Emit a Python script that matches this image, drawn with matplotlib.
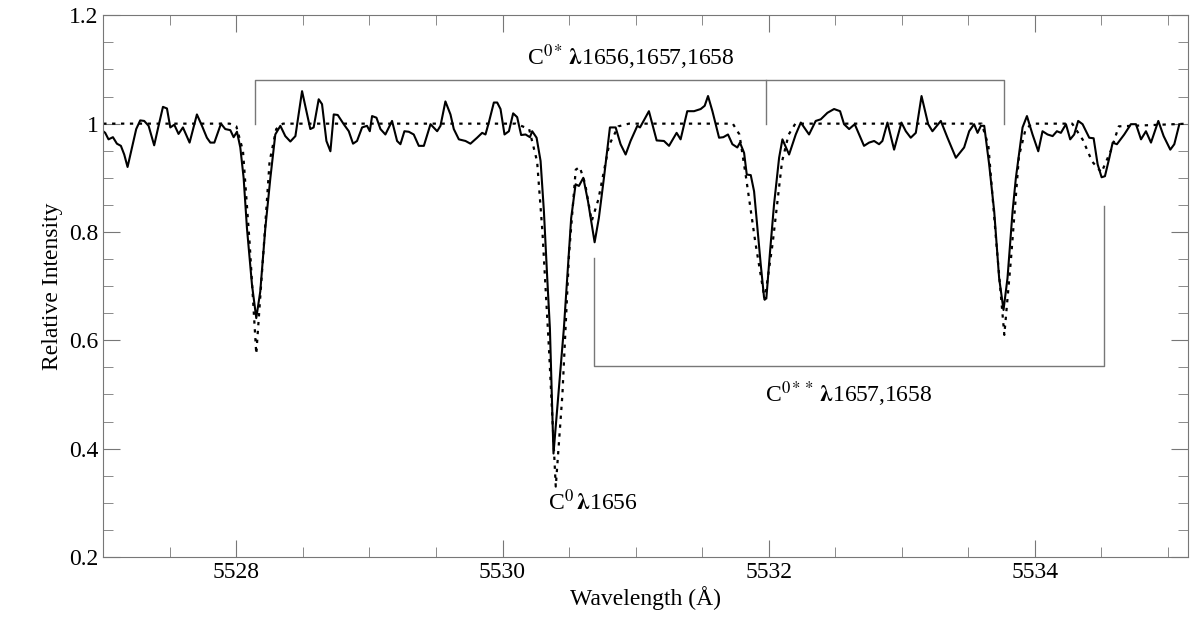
import matplotlib
matplotlib.use("Agg")
import matplotlib.pyplot as plt
from matplotlib.ticker import MultipleLocator

plt.rcParams["font.family"] = ["Liberation Serif", "DejaVu Serif"]
plt.rcParams["mathtext.fontset"] = "stix"

obs_wl = [5527.000, 5527.015, 5527.040, 5527.073, 5527.103, 5527.133, 5527.158, 5527.183, 5527.216,
          5527.248, 5527.278, 5527.308, 5527.341, 5527.383, 5527.416, 5527.449, 5527.479, 5527.504,
          5527.534, 5527.566, 5527.599, 5527.649, 5527.704, 5527.742, 5527.779, 5527.805, 5527.835,
          5527.885, 5527.917, 5527.955, 5527.980, 5528.005, 5528.030, 5528.055, 5528.080, 5528.118,
          5528.150, 5528.180, 5528.218, 5528.256, 5528.293, 5528.331, 5528.368, 5528.406, 5528.444,
          5528.494, 5528.556, 5528.581, 5528.619, 5528.644, 5528.677, 5528.707, 5528.732, 5528.762,
          5528.807, 5528.845, 5528.877, 5528.907, 5528.945, 5528.982, 5529.003, 5529.020, 5529.053,
          5529.083, 5529.120, 5529.170, 5529.208, 5529.233, 5529.263, 5529.296, 5529.333, 5529.371,
          5529.409, 5529.459, 5529.509, 5529.534, 5529.571, 5529.609, 5529.634, 5529.672, 5529.722,
          5529.759, 5529.809, 5529.847, 5529.872, 5529.897, 5529.935, 5529.960,
          5529.985, 5530.015, 5530.048, 5530.080, 5530.110, 5530.140, 5530.173, 5530.206, 5530.223,
          5530.256, 5530.286, 5530.311, 5530.336, 5530.356, 5530.383, 5530.461, 5530.486, 5530.516,
          5530.549, 5530.574, 5530.607, 5530.642, 5530.692, 5530.724, 5530.762, 5530.807, 5530.850,
          5530.887, 5530.925, 5530.962, 5531.013, 5531.033, 5531.100, 5531.158, 5531.213, 5531.251,
          5531.308, 5531.338, 5531.388, 5531.439, 5531.489, 5531.519, 5531.544, 5531.577, 5531.627,
          5531.659, 5531.694, 5531.727, 5531.764, 5531.784, 5531.815, 5531.835, 5531.865, 5531.890,
          5531.915, 5531.940, 5531.965, 5531.982, 5532.010, 5532.040, 5532.078, 5532.103, 5532.153,
          5532.203, 5532.241, 5532.303, 5532.353, 5532.391, 5532.441, 5532.491, 5532.536,
          5532.566, 5532.604, 5532.646, 5532.679, 5532.716, 5532.754, 5532.792, 5532.829, 5532.854,
          5532.892, 5532.942, 5532.997, 5533.030, 5533.067, 5533.105, 5533.148, 5533.198, 5533.230,
          5533.293, 5533.343, 5533.406, 5533.468, 5533.506, 5533.543, 5533.569, 5533.594, 5533.619,
          5533.656, 5533.694, 5533.731, 5533.764, 5533.794, 5533.832, 5533.857, 5533.907, 5533.940,
          5533.982, 5534.025, 5534.057, 5534.095, 5534.133, 5534.165, 5534.195, 5534.233, 5534.265,
          5534.295, 5534.325, 5534.358, 5534.408, 5534.441, 5534.471, 5534.501, 5534.526, 5534.559,
          5534.584, 5534.616, 5534.671, 5534.721, 5534.759, 5534.797, 5534.834, 5534.872, 5534.927,
          5534.967, 5535.017, 5535.047, 5535.085]
obs_int = [0.986, 0.983, 0.971, 0.975, 0.963, 0.959, 0.943, 0.920, 0.956,
           0.990, 1.006, 1.005, 0.996, 0.960, 0.996, 1.031, 1.028, 0.993,
           0.998, 0.981, 0.993, 0.965, 1.017, 0.996, 0.974, 0.965, 0.965,
           1.000, 0.990, 0.988, 0.975, 0.985, 0.956, 0.900, 0.807, 0.702,
           0.641, 0.690, 0.807, 0.900, 0.980, 0.996, 0.977, 0.967, 0.977,
           1.060, 0.990, 0.993, 1.045, 1.036, 0.968, 0.949, 1.017, 1.016,
           0.999, 0.986, 0.963, 0.968, 0.993, 0.996, 0.986, 1.014, 1.011,
           0.990, 0.980, 1.005, 0.968, 0.962, 0.986, 0.985, 0.980, 0.959,
           0.959, 0.999, 0.986, 0.996, 1.041, 1.017, 0.990, 0.971, 0.968,
           0.963, 0.974, 0.983, 0.980, 1.002, 1.039, 1.039,
           1.027, 0.980, 0.986, 1.019, 1.012, 0.979, 0.980, 0.975, 0.986,
           0.974, 0.931, 0.838, 0.715, 0.622, 0.391, 0.622, 0.715, 0.826,
           0.888, 0.885, 0.900, 0.857, 0.781, 0.826, 0.900, 0.993, 0.993,
           0.962, 0.943, 0.968, 0.996, 0.993, 1.023, 0.969, 0.968, 0.959,
           0.983, 0.971, 1.023, 1.023, 1.027, 1.033, 1.051, 1.023, 0.974,
           0.975, 0.980, 0.962, 0.956, 0.965, 0.946, 0.906, 0.905, 0.875,
           0.807, 0.740, 0.679, 0.677, 0.764, 0.851, 0.937, 0.971, 0.943,
           0.980, 1.002, 0.980, 1.005, 1.008, 1.020, 1.027, 1.023,
           0.999, 0.990, 0.999, 0.980, 0.959, 0.965, 0.968, 0.962, 0.968,
           1.002, 0.952, 1.002, 0.986, 0.974, 0.983, 1.051, 0.999, 0.986,
           1.005, 0.974, 0.937, 0.956, 0.986, 0.999, 0.983, 0.996, 0.996,
           0.925, 0.838, 0.715, 0.656, 0.715, 0.838, 0.900, 0.993, 1.014,
           0.980, 0.949, 0.986, 0.980, 0.977, 0.986, 0.983, 0.999, 0.971,
           0.980, 1.005, 0.999, 0.974, 0.973, 0.925, 0.901, 0.903, 0.937,
           0.965, 0.962, 0.980, 0.999, 0.999, 0.971, 0.986, 0.965, 1.005,
           0.977, 0.952, 0.962, 0.999]

# model fit (dotted)
mod_wl = [5527.0, 5527.95, 5528.0, 5528.05, 5528.1, 5528.15, 5528.2, 5528.25, 5528.3, 5528.35,
          5530.1, 5530.2, 5530.26, 5530.3, 5530.35, 5530.40, 5530.45, 5530.5, 5530.55, 5530.58,
          5530.62, 5530.67, 5530.72, 5530.8, 5530.87, 5530.95, 5531.73, 5531.78, 5531.83, 5531.9,
          5531.97, 5532.03, 5532.1, 5532.15, 5532.2, 5533.60, 5533.65, 5533.71, 5533.77, 5533.82,
          5533.88, 5533.93, 5533.98, 5534.28, 5534.36, 5534.43, 5534.50, 5534.57, 5534.63, 5535.15]
mod_int = [1.0, 1.0, 0.995, 0.95, 0.78, 0.575, 0.75, 0.93, 0.99, 1.0,
           1.0, 0.99, 0.93, 0.80, 0.58, 0.33, 0.50, 0.76, 0.915, 0.92,
           0.89, 0.82, 0.86, 0.96, 0.995, 1.0, 1.0, 0.98, 0.90, 0.78,
           0.675, 0.78, 0.93, 0.98, 1.0, 1.0, 0.96, 0.78, 0.61, 0.75,
           0.94, 0.99, 1.0, 1.0, 0.97, 0.93, 0.91, 0.95, 0.995, 1.0]

fig = plt.figure(figsize=(12, 6.38), dpi=100)
ax = fig.add_axes([0.086, 0.127, 0.904, 0.849])

ax.plot(mod_wl, mod_int, color="black", lw=1.6, ls=(0, (1.5, 2.5)))
ax.plot(obs_wl, obs_int, color="black", lw=1.5)

grey = "#777777"
# upper bracket: C0* lines
ax.plot([5528.14, 5528.14, 5533.77, 5533.77], [1.0, 1.08, 1.08, 1.0], color=grey, lw=1)
ax.plot([5531.98, 5531.98], [1.0, 1.08], color=grey, lw=1)
# lower bracket: C0** lines
ax.plot([5530.69, 5530.69, 5534.52, 5534.52], [0.752, 0.552, 0.552, 0.848], color=grey, lw=1)

ax.text(5530.96, 1.122, r"C$^{0*}$$\,\mathbf{\lambda}$1656,1657,1658", ha="center", va="center", fontsize=17)
ax.text(5532.6, 0.50, r"C$^{0**}$$\,\mathbf{\lambda}$1657,1658", ha="center", va="center", fontsize=17)
ax.text(5530.68, 0.30, r"C$^{0}$$\,\mathbf{\lambda}$1656", ha="center", va="center", fontsize=17)

ax.set_xlim(5527, 5535.15)
ax.set_ylim(0.2, 1.2)
ax.xaxis.set_major_locator(MultipleLocator(2))
ax.xaxis.set_minor_locator(MultipleLocator(0.5))
ax.yaxis.set_major_locator(MultipleLocator(0.2))
ax.yaxis.set_minor_locator(MultipleLocator(0.05))
ax.set_yticks([0.2, 0.4, 0.6, 0.8, 1.0, 1.2], ["0.2", "0.4", "0.6", "0.8", "1", "1.2"])
ax.tick_params(which="both", direction="in", top=True, right=True, labelsize=17, color=grey)
ax.tick_params(which="major", length=12)
ax.tick_params(which="minor", length=7)
for s in ax.spines.values():
    s.set_color(grey)
ax.set_xlabel("Wavelength (Å)", fontsize=17, labelpad=2)
ax.set_ylabel("Relative Intensity", fontsize=17)

fig.savefig("out.png")
